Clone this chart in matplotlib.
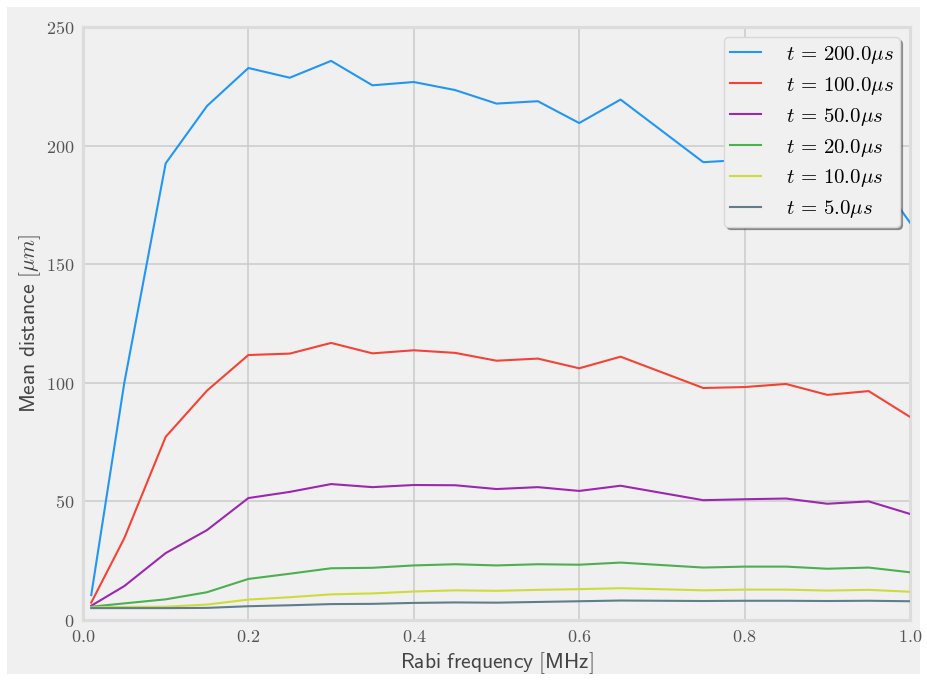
#!/usr/bin/env python3
"""Mean travelled distance vs. Rabi frequency for several evolution times."""
import matplotlib

matplotlib.use("Agg")
import matplotlib.pyplot as plt
from matplotlib.ticker import FuncFormatter

plt.rcParams["mathtext.fontset"] = "cm"

# Rabi frequency [MHz]
rabi = [0.01, 0.05, 0.1, 0.15, 0.2, 0.25, 0.3, 0.35, 0.4, 0.45, 0.5,
        0.55, 0.6, 0.65, 0.75, 0.8, 0.85, 0.9, 0.95, 1.0]

# mean distance [um] for each evolution time
d_200 = [10.5, 100, 192.5, 216.7, 232.7, 228.6, 235.7, 225.4, 226.8, 223.4, 217.7,
         218.7, 209.5, 219.4, 193.0, 194.0, 196.0, 188.0, 192.0, 167.5]
d_100 = [7.3, 34.5, 77.2, 96.7, 111.7, 112.3, 116.8, 112.4, 113.7, 112.6, 109.3,
         110.2, 106.1, 111.0, 97.8, 98.2, 99.5, 94.9, 96.5, 85.6]
d_50 = [6.0, 14.3, 28.2, 37.9, 51.4, 54.0, 57.3, 56.0, 56.9, 56.8, 55.2,
        56.0, 54.4, 56.6, 50.5, 50.9, 51.2, 49.0, 50.0, 44.7]
d_20 = [5.6, 7.0, 8.7, 11.7, 17.3, 19.5, 21.8, 22.0, 23.0, 23.5, 23.0,
        23.5, 23.3, 24.2, 22.1, 22.5, 22.5, 21.6, 22.1, 20.1]
d_10 = [5.3, 5.5, 5.6, 6.5, 8.6, 9.6, 10.8, 11.2, 12.0, 12.5, 12.3,
        12.7, 13.0, 13.4, 12.5, 12.8, 12.8, 12.4, 12.7, 11.9]
d_5 = [5.0, 5.0, 5.0, 5.1, 5.8, 6.2, 6.7, 6.8, 7.2, 7.4, 7.3,
       7.6, 7.9, 8.2, 8.0, 8.1, 8.1, 8.0, 8.1, 7.9]

series = [
    (r"$t\,=\,200.0\mu s$", d_200, "#2196F3"),
    (r"$t\,=\,100.0\mu s$", d_100, "#F44336"),
    (r"$t\,=\,50.0\mu s$", d_50, "#9C27B0"),
    (r"$t\,=\,20.0\mu s$", d_20, "#4CAF50"),
    (r"$t\,=\,10.0\mu s$", d_10, "#CDDC39"),
    (r"$t\,=\,5.0\mu s$", d_5, "#607D8B"),
]

fig = plt.figure(figsize=(9.27, 6.81), dpi=100)
fig.patch.set_facecolor("#f0f0f0")
fig.patch.set_edgecolor("white")
fig.patch.set_linewidth(10)

ax = fig.add_axes([0.0895, 0.0896, 0.8922, 0.8708])
ax.set_facecolor("#f0f0f0")

for label, vals, color in series:
    ax.plot(rabi, vals, color=color, linewidth=1.5, label=label, zorder=3)

ax.set_xlim(0, 1.0)
ax.set_ylim(0, 250)
ax.set_xticks([0.0, 0.2, 0.4, 0.6, 0.8, 1.0])
ax.set_yticks([0, 50, 100, 150, 200, 250])
ax.xaxis.set_major_formatter(FuncFormatter(lambda v, p: rf"${v:.1f}$"))
ax.yaxis.set_major_formatter(FuncFormatter(lambda v, p: rf"${v:.0f}$"))
ax.tick_params(length=0, labelsize=13, labelcolor="#555555", pad=6)

ax.grid(True, color="#cbcbcb", linewidth=1.1, zorder=1)
ax.set_axisbelow(True)
for sp in ax.spines.values():
    sp.set_color("#dcdcdc")
    sp.set_linewidth(2.3)

ax.set_xlabel(r"$\mathsf{Rabi\ frequency\ [MHz]}$", fontsize=15.5, color="#444444", labelpad=3)
ax.set_ylabel(r"$\mathsf{Mean\ distance\ [}\mu m\mathsf{]}$", fontsize=15.5, color="#444444", labelpad=2)

leg = ax.legend(loc="upper right", fontsize=15, shadow=True, fancybox=True,
                framealpha=1.0, facecolor="#f0f0f0", edgecolor="#d8d8d8",
                borderpad=0.3, labelspacing=0.43, handlelength=1.45,
                handletextpad=1.2, borderaxespad=0.5)
leg.get_frame().set_linewidth(1.0)

plt.savefig("out.png", dpi=100, facecolor=fig.get_facecolor(), edgecolor=fig.get_edgecolor())
